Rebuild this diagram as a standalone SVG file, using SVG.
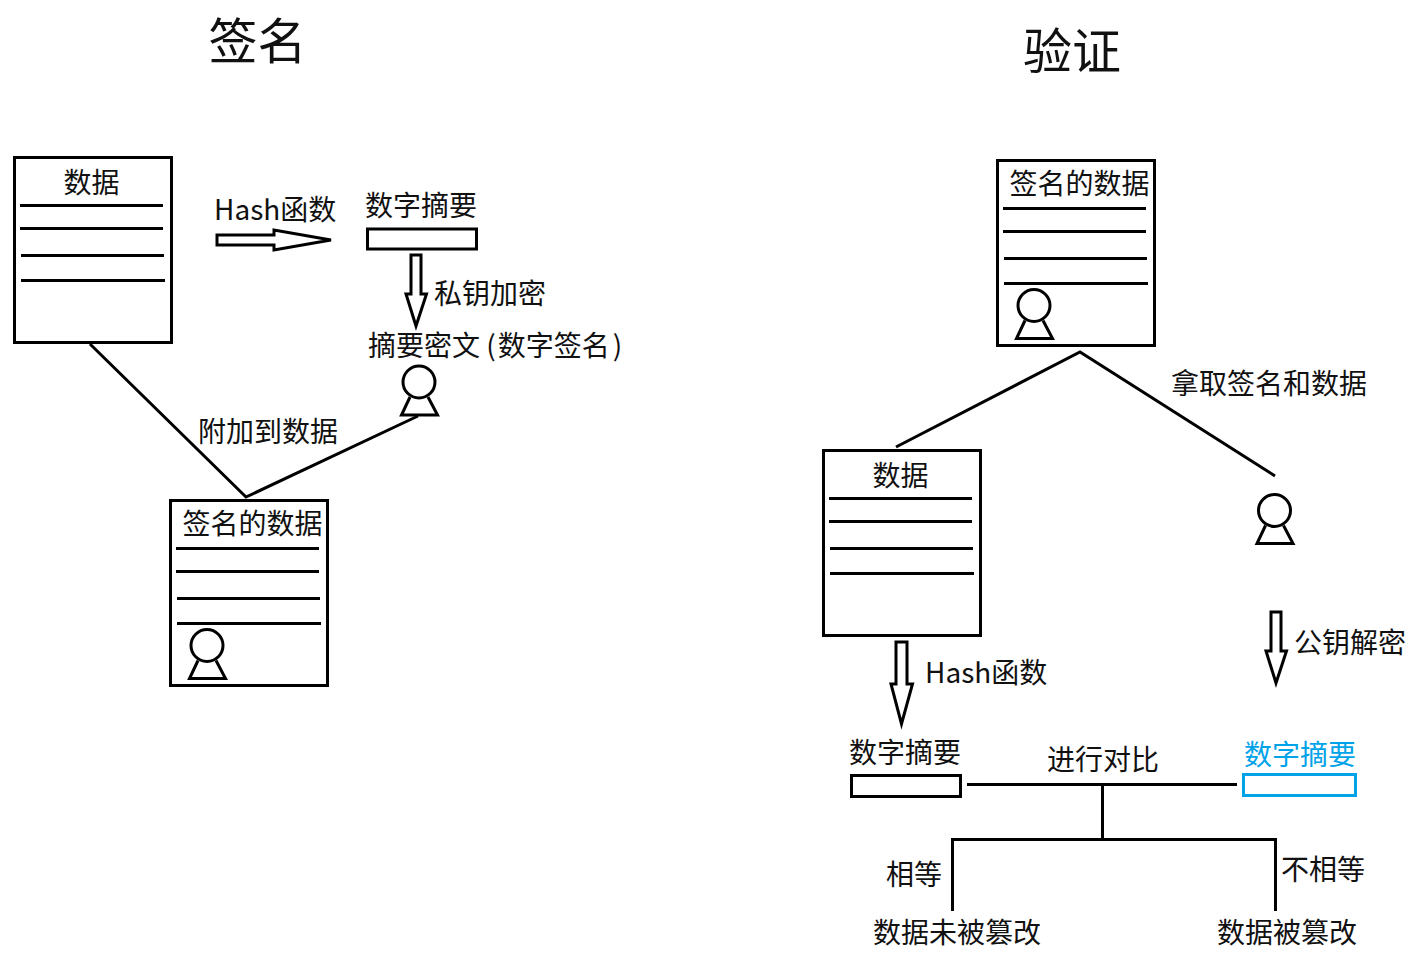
<svg xmlns="http://www.w3.org/2000/svg" width="1412" height="959" viewBox="0 0 1412 959">
<style>
text{font-family:"Noto Sans CJK SC","Noto Sans",sans-serif;font-size:28px;fill:#111}
.t{font-size:49px}
.l,.b{fill:none;stroke:#000;stroke-width:3}
.a{fill:#fff;stroke:#000;stroke-width:3}
.blue{stroke:#00a2e8}
text.blue{fill:#00a2e8;stroke:none}
</style>
<defs>
<g id="seal"><circle cx="0" cy="0" r="16" class="b"/><path d="M-9 15 L-17.500 33 L18.500 33 L9 15" class="b"/></g>
<g id="rules"><path d="M6 49.500H149M6 72.500H149M7 99.500H150M7 124.500H151" class="l"/></g>
<path id="down" d="M-5 0H5V39L10.500 39L0 71L-10 39L-5 39Z" class="a"/>
</defs>
<text class="t" x="208.500" y="59">签名</text>
<text class="t" x="1023" y="69">验证</text>
<g id="connectors">
<path d="M90 344L246 497L418 416" class="l"/>
<path d="M896 447L1080 352L1275 476" class="l"/>
<path d="M967 784.500H1237M1102.500 785V839M952.500 911V839.500H1275.500V911" class="l"/>
<path d="M217 235H274V230L331 240L274 250V245H217Z" class="a"/>
<use href="#down" x="416" y="255"/>
<path d="M896 642H907V684L912.500 684L901.500 724L891 684L896 684Z" class="a"/>
<use href="#down" x="1276" y="612"/>
</g>
<g id="data1"><rect x="14.500" y="157.500" width="157" height="185" class="b"/><use href="#rules" x="14" y="156"/><text x="63.500" y="193">数据</text></g>
<g id="hash1"><text x="214" y="220">Hash函数</text></g>
<g id="digest1"><text x="365" y="216">数字摘要</text><rect x="367.500" y="229" width="109" height="20" class="b"/></g>
<g id="enc"><text x="434" y="304">私钥加密</text></g>
<g id="sig"><text x="368" y="356">摘要密文 (<tspan dx="2">数字签名</tspan><tspan dx="3">)</tspan></text><use href="#seal" x="419" y="382"/></g>
<g id="attach"><text x="198" y="442">附加到数据</text></g>
<g id="signed1"><rect x="170.500" y="500.500" width="157" height="185" class="b"/><use href="#rules" x="170" y="499"/><text x="182.500" y="534">签名的数据</text><use href="#seal" x="207" y="645.500"/></g>
<g id="signed2"><rect x="997.500" y="160.500" width="157" height="185" class="b"/><use href="#rules" x="997" y="159"/><text x="1009.500" y="194">签名的数据</text><use href="#seal" x="1034" y="305.500"/></g>
<g id="take"><text x="1171" y="394">拿取签名和数据</text></g>
<g id="data2"><rect x="823.500" y="450.500" width="157" height="185" class="b"/><use href="#rules" x="823" y="449"/><text x="872.500" y="486">数据</text></g>
<g id="seal2"><use href="#seal" x="1274.500" y="510.500"/></g>
<g id="dec"><text x="1294" y="653">公钥解密</text></g>
<g id="hash2"><text x="925" y="683">Hash函数</text></g>
<g id="digest2"><text x="849" y="763">数字摘要</text><rect x="851.500" y="775.500" width="109" height="21" class="b"/></g>
<g id="cmp"><text x="1047" y="770">进行对比</text></g>
<g id="digest3"><text class="blue" x="1244" y="765">数字摘要</text><rect x="1243.500" y="774.500" width="112" height="21" class="b blue"/></g>
<g id="eq"><text x="886" y="885">相等</text><text x="873" y="943">数据未被篡改</text></g>
<g id="neq"><text x="1281" y="880">不相等</text><text x="1217" y="943">数据被篡改</text></g>
</svg>
